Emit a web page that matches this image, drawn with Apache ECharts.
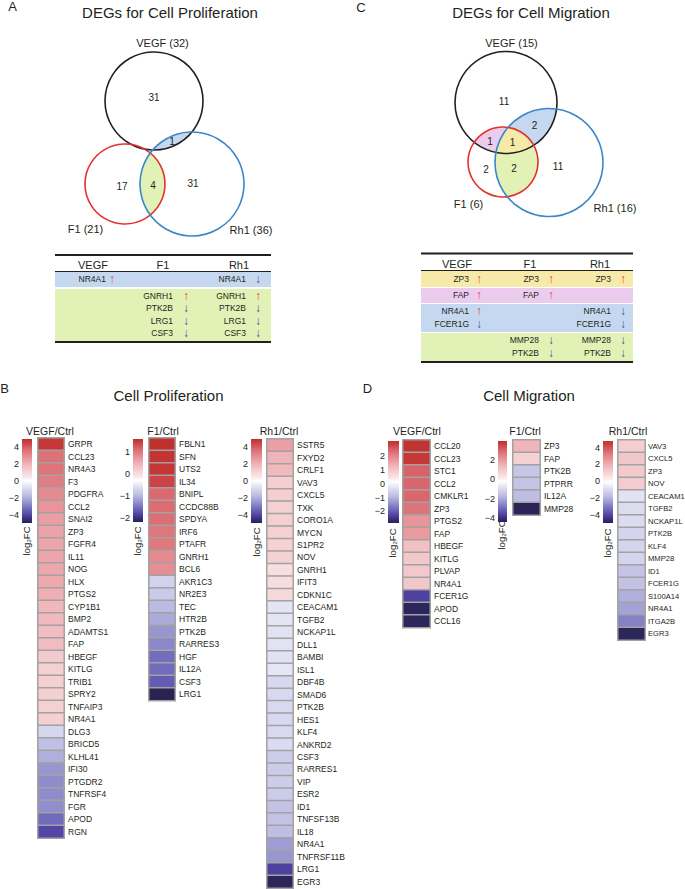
<!DOCTYPE html>
<html><head><meta charset="utf-8">
<script src="https://cdn.jsdelivr.net/npm/echarts@6/dist/echarts.min.js"></script>
<style>html,body{margin:0;padding:0;background:#fff}#c{width:685px;height:889px}</style>
</head><body><div id="c"></div>
<script>
// ================= DATA =================
// Panel B – Cell Proliferation (log2FC)
const bVegfGenes = ['GRPR','CCL23','NR4A3','F3','PDGFRA','CCL2','SNAI2','ZP3','FGFR4','IL11','NOG','HLX','PTGS2','CYP1B1','BMP2','ADAMTS1','FAP','HBEGF','KITLG','TRIB1','SPRY2','TNFAIP3','NR4A1','DLG3','BRICD5','KLHL41','IFI30','PTGDR2','TNFRSF4','FGR','APOD','RGN'];
const bVegfVals  = [4.8,3.6,3.55,3.35,3.0,2.75,2.5,2.4,2.35,2.35,2.3,2.25,2.1,1.9,1.85,1.75,1.75,1.35,1.2,1.2,1.2,1.2,1.2,-1.0,-1.65,-2.0,-2.5,-2.7,-2.7,-2.65,-3.3,-4.0];
const bVegfScale = [-5, 5];
const bVegfTicks = [-4,-2,0,2,4];

const bF1Genes = ['FBLN1','SFN','UTS2','IL34','BNIPL','CCDC88B','SPDYA','IRF6','PTAFR','GNRH1','BCL6','AKR1C3','NR2E3','TEC','HTR2B','PTK2B','RARRES3','HGF','IL12A','CSF3','LRG1'];
const bF1Vals  = [1.6,1.56,1.54,1.41,1.13,1.11,1.09,1.03,1.01,0.84,0.8,-0.72,-0.81,-0.97,-1.1,-1.25,-1.35,-1.54,-1.55,-1.67,-2.2];
const bF1Scale = [-2.2, 1.6];
const bF1Ticks = [-2,-1,0,1];

const bRh1Genes = ['SSTR5','FXYD2','CRLF1','VAV3','CXCL5','TXK','CORO1A','MYCN','S1PR2','NOV','GNRH1','IFIT3','CDKN1C','CEACAM1','TGFB2','NCKAP1L','DLL1','BAMBI','ISL1','DBF4B','SMAD6','PTK2B','HES1','KLF4','ANKRD2','CSF3','RARRES1','VIP','ESR2','ID1','TNFSF13B','IL18','NR4A1','TNFRSF11B','LRG1','EGR3'];
const bRh1Vals  = [2.5,2.0,1.8,1.25,1.25,1.2,1.2,1.2,1.15,1.15,0.75,0.8,0.9,-0.65,-0.65,-0.7,-0.7,-0.7,-0.6,-0.95,-0.95,-0.95,-0.95,-0.95,-0.9,-1.3,-1.3,-1.25,-1.3,-1.55,-1.55,-1.7,-2.35,-2.5,-4.1,-4.9];
const bRh1Scale = [-5, 5];
const bRh1Ticks = [-4,-2,0,2,4];

// Panel D – Cell Migration (log2FC)
const dVegfGenes = ['CCL20','CCL23','STC1','CCL2','CMKLR1','ZP3','PTGS2','FAP','HBEGF','KITLG','PLVAP','NR4A1','FCER1G','APOD','CCL16'];
const dVegfVals  = [3.04,2.98,2.45,2.42,2.39,2.24,1.76,1.67,1.11,0.96,0.96,0.99,-2.31,-2.79,-2.79];
const dVegfScale = [-2.85, 3.1];
const dVegfTicks = [-2,-1,0,1,2];

const dF1Genes = ['ZP3','FAP','PTK2B','PTPRR','IL12A','MMP28'];
const dF1Vals  = [1.39,0.75,-1.44,-1.48,-1.65,-4.36];
const dF1Scale = [-4.4, 3.95];
const dF1Ticks = [-4,-2,0,2];

const dRh1Genes = ['VAV3','CXCL5','ZP3','NOV','CEACAM1','TGFB2','NCKAP1L','PTK2B','KLF4','MMP28','ID1','FCER1G','S100A14','NR4A1','ITGA2B','EGR3'];
const dRh1Vals  = [1.13,1.32,1.27,1.17,-0.79,-0.93,-0.93,-1.13,-1.13,-1.13,-1.57,-1.62,-2.06,-2.31,-2.94,-4.9];
const dRh1Scale = [-5, 4.8];
const dRh1Ticks = [-4,-2,0,2,4];

// Venn diagrams
const vennSets = ['VEGF','F1','Rh1'];
const vennATotals = [32, 21, 36];
const vennARegions = ['VEGF','VEGF&Rh1','F1','F1&Rh1','Rh1'];
const vennACounts  = [31, 1, 17, 4, 31];
const vennCTotals = [15, 6, 16];
const vennCRegions = ['VEGF','VEGF&Rh1','VEGF&F1','VEGF&F1&Rh1','F1','F1&Rh1','Rh1'];
const vennCCounts  = [11, 2, 1, 1, 2, 2, 11];

// Tables: [group, VEGF gene, dir, F1 gene, dir, Rh1 gene, dir]
const tableARows = [
  ['VEGF&Rh1','NR4A1','up','','','NR4A1','down'],
  ['F1&Rh1','','','GNRH1','up','GNRH1','up'],
  ['F1&Rh1','','','PTK2B','down','PTK2B','down'],
  ['F1&Rh1','','','LRG1','down','LRG1','down'],
  ['F1&Rh1','','','CSF3','down','CSF3','down']
];
const tableCRows = [
  ['VEGF&F1&Rh1','ZP3','up','ZP3','up','ZP3','up'],
  ['VEGF&F1','FAP','up','FAP','up','',''],
  ['VEGF&Rh1','NR4A1','up','','','NR4A1','down'],
  ['VEGF&Rh1','FCER1G','down','','','FCER1G','down'],
  ['F1&Rh1','','','MMP28','down','MMP28','down'],
  ['F1&Rh1','','','PTK2B','down','PTK2B','down']
];

// ================= STYLE / LAYOUT =================
const FF = "'Liberation Sans', Arial, Helvetica, sans-serif";
const TXT = '#231f20';
const regionColor = {'VEGF&Rh1':'#c5d8ef','F1&Rh1':'#e2f2b7','VEGF&F1':'#ecccee','VEGF&F1&Rh1':'#f7eaa8'};
const setStroke = ['#231f20','#e3322d','#3b87c9'];
const CMAP = [[-1,'#2a2352'],[-0.9,'#3a3080'],[-0.8,'#5446a6'],[-0.65,'#736ebd'],[-0.5,'#9896cf'],[-0.35,'#bcbbe2'],[-0.2,'#d6d6ef'],[-0.1,'#e9e9f6'],[0,'#ffffff'],[0.1,'#fae6e8'],[0.25,'#f4ced1'],[0.4,'#efb4b8'],[0.55,'#e8949a'],[0.7,'#de777c'],[0.8,'#d65f65'],[0.9,'#cb4347'],[1,'#c0302c']];

function hex2rgb(h){return [parseInt(h.substr(1,2),16),parseInt(h.substr(3,2),16),parseInt(h.substr(5,2),16)];}
function cmapT(t){
  for(let i=0;i<CMAP.length-1;i++){
    const [a,ca]=CMAP[i],[b,cb]=CMAP[i+1];
    if(t<=b||i===CMAP.length-2){
      const f=Math.max(0,Math.min(1,(t-a)/(b-a)));
      const A=hex2rgb(ca),B=hex2rgb(cb);
      return 'rgb('+A.map((v,k)=>Math.round(v+(B[k]-v)*f)).join(',')+')';
    }
  }
}
const NS=41;
const sampled=[];for(let i=0;i<NS;i++)sampled.push(cmapT(-1+2*i/(NS-1)));
const gradStops=[];for(let i=0;i<NS;i++)gradStops.push({offset:i/(NS-1),color:cmapT(1-2*i/(NS-1))});

const heatPanels = [
  {genes:bVegfGenes, vals:bVegfVals, scale:bVegfScale, ticks:bVegfTicks, title:'VEGF/Ctrl', L:{hx:38,hy:438,hw:26,rowH:12.5,fs:8.5,cbx:22,cby:439,cbw:10,cbh:84,tx:50,lx:26,ly:541}},
  {genes:bF1Genes,   vals:bF1Vals,   scale:bF1Scale,   ticks:bF1Ticks,   title:'F1/Ctrl',   L:{hx:149,hy:438,hw:26,rowH:12.5,fs:8.5,cbx:133,cby:439,cbw:10,cbh:83,tx:163,lx:137,ly:541}},
  {genes:bRh1Genes,  vals:bRh1Vals,  scale:bRh1Scale,  ticks:bRh1Ticks,  title:'Rh1/Ctrl',  L:{hx:267,hy:439,hw:26,rowH:12.47,fs:8.5,cbx:251,cby:439,cbw:11,cbh:84,tx:279,lx:256,ly:542}},
  {genes:dVegfGenes, vals:dVegfVals, scale:dVegfScale, ticks:dVegfTicks, title:'VEGF/Ctrl', L:{hx:403,hy:440,hw:27,rowH:12.5,fs:8.5,cbx:388,cby:441,cbw:11,cbh:82,tx:417,lx:392,ly:543}},
  {genes:dF1Genes,   vals:dF1Vals,   scale:dF1Scale,   ticks:dF1Ticks,   title:'F1/Ctrl',   L:{hx:513,hy:440,hw:27,rowH:12.5,fs:8.5,cbx:498,cby:441,cbw:9,cbh:81,tx:525,lx:501,ly:535}},
  {genes:dRh1Genes,  vals:dRh1Vals,  scale:dRh1Scale,  ticks:dRh1Ticks,  title:'Rh1/Ctrl',  L:{hx:618,hy:440,hw:27,rowH:12.5,fs:7.6,m:3,cbx:603,cby:441,cbw:10,cbh:82,tx:628,lx:607,ly:543}}
];

const vennLayout = {
  A:{circles:[{cx:154,cy:101,r:49},{cx:125,cy:184,r:40},{cx:192,cy:184,r:52}],
     setLabel:[[162.5,42.5],[85.5,229],[251,230]],
     countPos:[[154,97],[172,141],[122,186],[153,185],[193,183]]},
  C:{circles:[{cx:506,cy:102.5,r:51},{cx:503,cy:162,r:35},{cx:549,cy:162.5,r:54}],
     setLabel:[[511.5,43],[468.5,203.5],[615,208]],
     countPos:[[504,101.5],[534.5,125],[490,141],[512.5,142],[486,169],[514,168],[558,166]]}
};

// ================= BUILD =================
const grids=[],xAxes=[],yAxes=[],series=[],visualMaps=[],graphics=[];
function txt(x,y,text,size,opts){
  opts=opts||{};
  return {type:'text',x:x,y:y,rotation:opts.rot||0,silent:true,
    style:{text:text,fill:opts.color||TXT,fontSize:size,fontFamily:opts.ff||FF,fontWeight:opts.fw||'normal',
      align:opts.align||'center',textAlign:opts.align||'center',verticalAlign:'middle',textVerticalAlign:'middle',lineHeight:size}};
}
const negFmt=v=>String(v).replace('-','\u2212');

heatPanels.forEach((p,i)=>{
  const L=p.L;
  const gi=grids.length;
  grids.push({left:L.hx,top:L.hy,width:L.hw,height:p.genes.length*L.rowH,outerBoundsMode:'none',containLabel:false});
  xAxes.push({gridIndex:gi,type:'category',data:['v'],show:false});
  yAxes.push({gridIndex:gi,type:'category',data:p.genes,inverse:true,position:'right',
    axisLine:{show:false},axisTick:{show:false},splitLine:{show:false},
    axisLabel:{interval:0,fontSize:L.fs,color:TXT,fontFamily:FF,margin:L.m||4}});
  series.push({type:'heatmap',name:'h'+i,xAxisIndex:gi,yAxisIndex:gi,data:p.vals.map((v,k)=>[0,k,v]),
    itemStyle:{borderColor:'#a2a2a2',borderWidth:1.5},emphasis:{disabled:true},animation:false});
  visualMaps.push({type:'continuous',show:false,seriesIndex:series.length-1,dimension:2,min:p.scale[0],max:p.scale[1],inRange:{color:sampled}});
  const ci=grids.length;
  grids.push({left:L.cbx,top:L.cby,width:L.cbw,height:L.cbh,outerBoundsMode:'none',containLabel:false});
  xAxes.push({gridIndex:ci,type:'value',min:0,max:1,show:false});
  yAxes.push({gridIndex:ci,type:'value',min:p.scale[0],max:p.scale[1],position:'left',
    axisLine:{show:false},axisTick:{show:false},splitLine:{show:false},
    axisLabel:{customValues:p.ticks,fontSize:9,color:TXT,fontFamily:FF,margin:3,formatter:negFmt}});
  const mn=p.scale[0],mx=p.scale[1];
  series.push({type:'custom',xAxisIndex:ci,yAxisIndex:ci,data:[[0.5,0]],silent:true,animation:false,
    renderItem:function(params,api){
      const a=api.coord([0,mx]),b=api.coord([1,mn]);
      return {type:'rect',shape:{x:a[0],y:a[1],width:b[0]-a[0],height:b[1]-a[1]},
        style:{fill:{type:'linear',x:0,y:0,x2:0,y2:1,colorStops:gradStops}}};
    }});
  graphics.push(txt(L.tx,431,p.title,10.5));
  graphics.push(txt(L.lx,L.ly,'log\u2082FC',9.5,{rot:Math.PI/2}));
});

const fi=grids.length;
grids.push({left:0,top:0,width:685,height:889,outerBoundsMode:'none',containLabel:false});
xAxes.push({gridIndex:fi,type:'value',min:0,max:685,show:false});
yAxes.push({gridIndex:fi,type:'value',min:0,max:889,inverse:true,show:false});

function intersectPoly(cs){
  const pts=[];
  cs.forEach((c,i)=>{
    for(let k=0;k<720;k++){
      const a=k/720*2*Math.PI,x=c.cx+c.r*Math.cos(a),y=c.cy+c.r*Math.sin(a);
      if(cs.every((d,j)=>j===i||Math.hypot(x-d.cx,y-d.cy)<=d.r+1e-6))pts.push([x,y]);
    }
  });
  let mx=0,my=0;pts.forEach(p=>{mx+=p[0];my+=p[1];});mx/=pts.length;my/=pts.length;
  pts.sort((p,q)=>Math.atan2(p[1]-my,p[0]-mx)-Math.atan2(q[1]-my,q[0]-mx));
  return pts;
}
function vennSeries(lay,totals,regions,counts,fillOrder){
  return {type:'custom',xAxisIndex:fi,yAxisIndex:fi,data:[[0,0]],silent:true,animation:false,
    renderItem:function(params,api){
      const ch=[];
      fillOrder.forEach(key=>{
        const idx=key.split('&').map(n=>vennSets.indexOf(n));
        const poly=intersectPoly(idx.map(k=>lay.circles[k])).map(p=>api.coord(p));
        ch.push({type:'polygon',shape:{points:poly},style:{fill:regionColor[key],stroke:null}});
      });
      lay.circles.forEach((c,k)=>{
        const p=api.coord([c.cx,c.cy]);const r=api.size([c.r,c.r])[0];
        ch.push({type:'circle',shape:{cx:p[0],cy:p[1],r:r},style:{fill:'none',stroke:setStroke[k],lineWidth:1.6}});
      });
      counts.forEach((n,k)=>{const p=api.coord(lay.countPos[k]);ch.push(txt(p[0],p[1],String(n),10));});
      totals.forEach((n,k)=>{const p=api.coord(lay.setLabel[k]);ch.push(txt(p[0],p[1],vennSets[k]+' ('+n+')',11));});
      return {type:'group',children:ch};
    }};
}
series.push(vennSeries(vennLayout.A,vennATotals,vennARegions,vennACounts,['VEGF&Rh1','F1&Rh1']));
series.push(vennSeries(vennLayout.C,vennCTotals,vennCRegions,vennCCounts,['VEGF&F1','VEGF&Rh1','F1&Rh1','VEGF&F1&Rh1']));

function tableGraphics(rows,T){
  const els=[];
  const groups=[];
  rows.forEach(r=>{if(!groups.length||groups[groups.length-1].key!==r[0])groups.push({key:r[0],rows:[]});groups[groups.length-1].rows.push(r);});
  let y=T.bodyTop;
  groups.forEach((g,gi)=>{
    const h=T.bandH[gi];
    els.push({type:'rect',silent:true,shape:{x:T.x0,y:y,width:T.x1-T.x0,height:h},style:{fill:regionColor[g.key]}});
    g.rows.forEach((r,ri)=>{
      const ty=y+h/2-0.5+(ri-(g.rows.length-1)/2)*12.5;
      for(let c=0;c<3;c++){
        const gene=r[1+2*c],dir=r[2+2*c];
        if(gene){
          els.push(txt(T.nameR[c],ty,gene,8.5,{align:'right'}));
          els.push(txt(T.arrowX[c],ty,dir==='up'?'\u2191':'\u2193',12,{color:dir==='up'?'#e8413c':'#4a4aa6'}));
        }
      }
    });
    y+=h+(gi<groups.length-1?T.gap:0);
  });
  els.push({type:'line',silent:true,shape:{x1:T.x0,y1:T.yTop,x2:T.x1,y2:T.yTop},style:{stroke:TXT,lineWidth:2}});
  els.push({type:'line',silent:true,shape:{x1:T.x0,y1:T.headLine,x2:T.x1,y2:T.headLine},style:{stroke:TXT,lineWidth:1}});
  els.push({type:'line',silent:true,shape:{x1:T.x0,y1:y+1,x2:T.x1,y2:y+1},style:{stroke:TXT,lineWidth:2}});
  vennSets.forEach((s,k)=>els.push(txt(T.headX[k],T.headY,s,11)));
  return els;
}
graphics.push(...tableGraphics(tableARows,{x0:55,x1:271,yTop:255,headY:264.5,headLine:271.5,bodyTop:272,bandH:[15,52],gap:2,
  headX:[93,163,239],nameR:[106,173,246],arrowX:[112,186,258]}));
graphics.push(...tableGraphics(tableCRows,{x0:421,x1:633,yTop:253.5,headY:263.5,headLine:270.5,bodyTop:271,bandH:[16,15,28,28],gap:1,
  headX:[457,530,600],nameR:[469,539,611],arrowX:[479,551,623]}));

graphics.push(txt(170,12.5,'DEGs for Cell Proliferation',15));
graphics.push(txt(531,12.5,'DEGs for Cell Migration',15));
graphics.push(txt(168.5,395,'Cell Proliferation',15));
graphics.push(txt(529,395,'Cell Migration',15));
graphics.push(txt(12.5,6,'A',13));
graphics.push(txt(361,7,'C',13));
graphics.push(txt(4.5,388,'B',13));
graphics.push(txt(367.5,388,'D',13));

const chart=echarts.init(document.getElementById('c'),null,{renderer:'svg'});
chart.setOption({
  animation:false,
  backgroundColor:'#ffffff',
  textStyle:{fontFamily:FF},
  grid:grids,xAxis:xAxes,yAxis:yAxes,visualMap:visualMaps,series:series,
  graphic:{elements:graphics}
});
</script></body></html>
